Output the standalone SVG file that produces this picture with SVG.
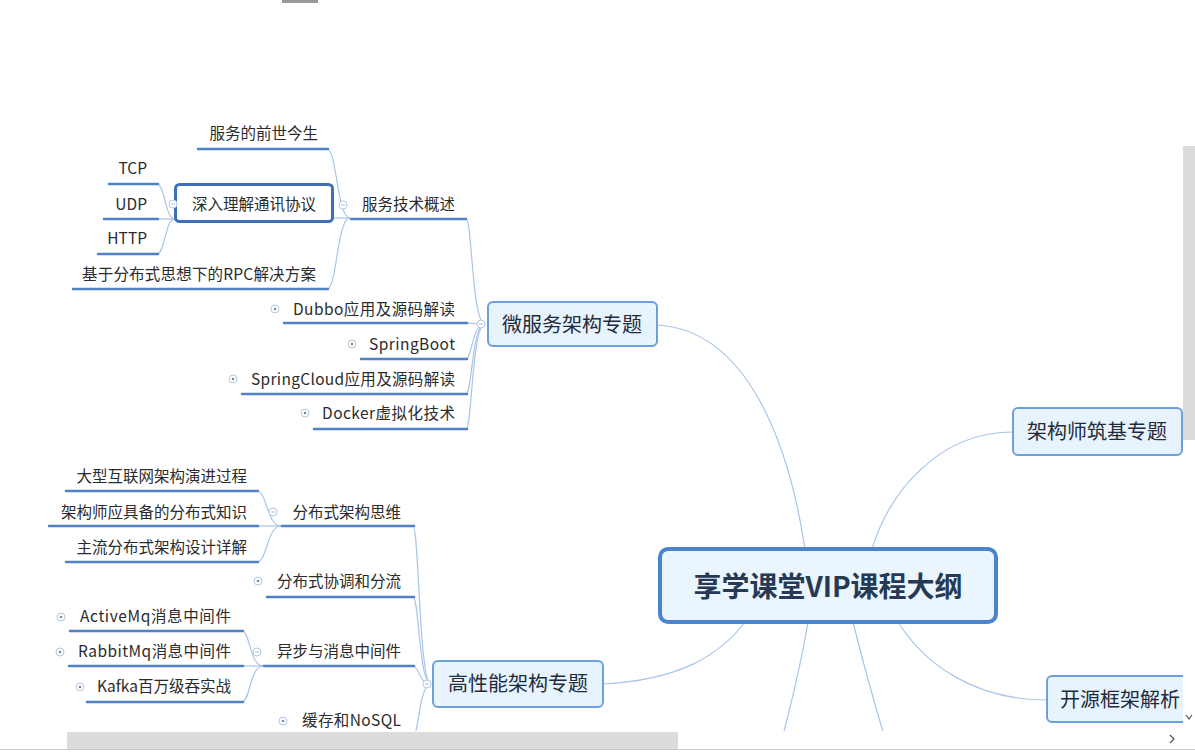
<svg xmlns="http://www.w3.org/2000/svg" width="1195" height="754" viewBox="0 0 1195 754">
<style>
text{font-family:"Noto Sans CJK SC","Noto Sans",sans-serif;fill:#2b2b2b}
.t{font-size:15.5px;text-anchor:end}
.m{font-size:20px;text-anchor:middle;fill:#1f2b3a}
.ul{stroke:#4f81c7;stroke-width:2.5;fill:none;stroke-linecap:round}
.c{stroke:#a9c5e8;stroke-width:1.2;fill:none}
.topic{fill:#e7f3fd;stroke:#6e9fda;stroke-width:2}
.ind{fill:#fff;stroke:#b3c8e2;stroke-width:1}
.minus{stroke:#a9c0de;stroke-width:1}
</style>
<defs>
<clipPath id="view"><rect x="0" y="0" width="1183" height="731"/></clipPath>
</defs>
<rect width="1195" height="754" fill="#fff"/>
<rect x="282" y="0" width="36" height="3" fill="#9a9a9a"/>
<g clip-path="url(#view)">
<g id="connectors">
<path class="c" d="M805,549 C790,450 750,330 657,325"/>
<path class="c" d="M872,549 C890,490 940,432 1013,432"/>
<path class="c" d="M745,622 C720,655 680,680 603,684"/>
<path class="c" d="M898,622 C925,665 975,700 1047,700"/>
<path class="c" d="M808,622 Q800,670 783,735"/>
<path class="c" d="M853,622 Q866,675 884,735"/>
<path class="c" d="M485,324 C472,324 472,218 466,218"/>
<path class="c" d="M485,324 C472,324 472,323 466,323"/>
<path class="c" d="M485,324 C472,324 472,359 466,359"/>
<path class="c" d="M485,324 C472,324 472,394 466,394"/>
<path class="c" d="M485,324 C472,324 472,429 466,429"/>
<path class="c" d="M350,218 C337,218 337,149 327,149"/>
<path class="c" d="M350,218 L333,218"/>
<path class="c" d="M350,218 C337,218 337,289 327,289"/>
<path class="c" d="M175,219 C165,219 165,184 157,184"/>
<path class="c" d="M175,219 L157,219"/>
<path class="c" d="M175,219 C165,219 165,254 157,254"/>
<path class="c" d="M431,684 C419,684 419,526 413,526"/>
<path class="c" d="M431,684 C419,684 419,597 413,597"/>
<path class="c" d="M431,684 C419,684 419,666 413,666"/>
<path class="c" d="M431,684 C419,684 419,736 413,736"/>
<path class="c" d="M281,526 C267,526 267,491 257,491"/>
<path class="c" d="M281,526 L257,526"/>
<path class="c" d="M281,526 C267,526 267,562 257,562"/>
<path class="c" d="M263,666 C250,666 250,631 242,631"/>
<path class="c" d="M263,666 L242,666"/>
<path class="c" d="M263,666 C250,666 250,702 242,702"/>
</g>

<g id="n-center">
<rect x="660" y="549" width="336" height="73" rx="8" fill="#eaf5fe" stroke="#4a84cc" stroke-width="4"/>
<text x="828" y="597" font-size="28" font-weight="bold" text-anchor="middle" style="fill:#263a55">享学课堂VIP课程大纲</text>
</g>
<g id="n-arch">
<rect class="topic" x="1013" y="408" width="169" height="47" rx="5"/>
<text class="m" x="1097" y="439">架构师筑基专题</text>
</g>
<g id="n-open">
<rect class="topic" x="1047" y="676" width="150" height="46" rx="5"/>
<text class="m" x="1060" y="707" style="text-anchor:start">开源框架解析</text>
</g>
<g id="n-micro">
<rect class="topic" x="488" y="302" width="169" height="44" rx="5"/>
<text class="m" x="572" y="332">微服务架构专题</text>
<circle class="ind" cx="481" cy="324" r="4"/><line class="minus" x1="479" y1="324" x2="483" y2="324"/>
</g>
<g id="n-perf">
<rect class="topic" x="433" y="661" width="170" height="46" rx="5"/>
<text class="m" x="518" y="691">高性能架构专题</text>
<circle class="ind" cx="427" cy="684" r="4"/><line class="minus" x1="425" y1="684" x2="429" y2="684"/>
</g>

<g id="n-overview">
<line class="ul" x1="351" y1="219" x2="466" y2="219"/>
<text class="t" x="455" y="210">服务技术概述</text>
<circle class="ind" cx="343" cy="205" r="4"/><line class="minus" x1="341" y1="205" x2="345" y2="205"/>
</g>
<g id="n-history">
<line class="ul" x1="198" y1="149" x2="328" y2="149"/>
<text class="t" x="318" y="139">服务的前世今生</text>
</g>
<g id="n-protocol">
<rect x="175.5" y="184.5" width="157" height="37" rx="4" fill="#fff" stroke="#3f6fb8" stroke-width="3"/>
<text x="254" y="210" font-size="15.5" text-anchor="middle">深入理解通讯协议</text>
<circle class="ind" cx="173" cy="204" r="4"/><line class="minus" x1="171" y1="204" x2="175" y2="204"/>
</g>
<g id="n-tcp">
<line class="ul" x1="109" y1="184" x2="158" y2="184"/>
<text class="t" x="147" y="174">TCP</text>
</g>
<g id="n-udp">
<line class="ul" x1="104" y1="219" x2="158" y2="219"/>
<text class="t" x="147" y="210">UDP</text>
</g>
<g id="n-http">
<line class="ul" x1="98" y1="254" x2="158" y2="254"/>
<text class="t" x="147" y="244">HTTP</text>
</g>
<g id="n-rpc">
<line class="ul" x1="73" y1="289" x2="328" y2="289"/>
<text class="t" x="316" y="280" textLength="234" lengthAdjust="spacing">基于分布式思想下的RPC解决方案</text>
</g>
<g id="n-dubbo">
<line class="ul" x1="284" y1="323" x2="467" y2="323"/>
<text class="t" x="455" y="315" textLength="162" lengthAdjust="spacing">Dubbo应用及源码解读</text>
<circle class="ind" cx="275" cy="309" r="4"/><circle cx="275" cy="309" r="1.3" fill="#7a8aa0"/>
</g>
<g id="n-springboot">
<line class="ul" x1="361" y1="359" x2="467" y2="359"/>
<text class="t" x="455" y="350" textLength="86" lengthAdjust="spacing">SpringBoot</text>
<circle class="ind" cx="352" cy="344" r="4"/><circle cx="352" cy="344" r="1.3" fill="#7a8aa0"/>
</g>
<g id="n-springcloud">
<line class="ul" x1="242" y1="394" x2="467" y2="394"/>
<text class="t" x="455" y="385" textLength="204" lengthAdjust="spacing">SpringCloud应用及源码解读</text>
<circle class="ind" cx="233" cy="379" r="4"/><circle cx="233" cy="379" r="1.3" fill="#7a8aa0"/>
</g>
<g id="n-docker">
<line class="ul" x1="314" y1="429" x2="467" y2="429"/>
<text class="t" x="455" y="419" textLength="133" lengthAdjust="spacing">Docker虚拟化技术</text>
<circle class="ind" cx="305" cy="413" r="4"/><circle cx="305" cy="413" r="1.3" fill="#7a8aa0"/>
</g>

<g id="n-dthink">
<line class="ul" x1="282" y1="526" x2="414" y2="526"/>
<text class="t" x="401" y="518">分布式架构思维</text>
<circle class="ind" cx="273" cy="512" r="4"/><line class="minus" x1="271" y1="512" x2="275" y2="512"/>
</g>
<g id="n-evolve">
<line class="ul" x1="66" y1="491" x2="258" y2="491"/>
<text class="t" x="247" y="482">大型互联网架构演进过程</text>
</g>
<g id="n-knowledge">
<line class="ul" x1="49" y1="526" x2="258" y2="526"/>
<text class="t" x="247" y="518">架构师应具备的分布式知识</text>
</g>
<g id="n-design">
<line class="ul" x1="66" y1="562" x2="258" y2="562"/>
<text class="t" x="247" y="553">主流分布式架构设计详解</text>
</g>
<g id="n-coord">
<line class="ul" x1="267" y1="597" x2="414" y2="597"/>
<text class="t" x="401" y="587">分布式协调和分流</text>
<circle class="ind" cx="258" cy="581" r="4"/><circle cx="258" cy="581" r="1.3" fill="#7a8aa0"/>
</g>
<g id="n-async">
<line class="ul" x1="264" y1="666" x2="414" y2="666"/>
<text class="t" x="401" y="657">异步与消息中间件</text>
<circle class="ind" cx="257" cy="652" r="4"/><line class="minus" x1="255" y1="652" x2="259" y2="652"/>
</g>
<g id="n-activemq">
<line class="ul" x1="70" y1="631" x2="243" y2="631"/>
<text class="t" x="231" y="622" textLength="151" lengthAdjust="spacing">ActiveMq消息中间件</text>
<circle class="ind" cx="61" cy="617" r="4"/><circle cx="61" cy="617" r="1.3" fill="#7a8aa0"/>
</g>
<g id="n-rabbitmq">
<line class="ul" x1="69" y1="666" x2="243" y2="666"/>
<text class="t" x="231" y="657" textLength="153" lengthAdjust="spacing">RabbitMq消息中间件</text>
<circle class="ind" cx="60" cy="652" r="4"/><circle cx="60" cy="652" r="1.3" fill="#7a8aa0"/>
</g>
<g id="n-kafka">
<line class="ul" x1="87" y1="702" x2="243" y2="702"/>
<text class="t" x="231" y="692" textLength="134" lengthAdjust="spacing">Kafka百万级吞实战</text>
<circle class="ind" cx="80" cy="687" r="4"/><circle cx="80" cy="687" r="1.3" fill="#7a8aa0"/>
</g>
<g id="n-cache">
<line class="ul" x1="292" y1="736" x2="414" y2="736"/>
<text class="t" x="401" y="726" textLength="99" lengthAdjust="spacing">缓存和NoSQL</text>
<circle class="ind" cx="283" cy="721" r="4"/><circle cx="283" cy="721" r="1.3" fill="#7a8aa0"/>
</g>
</g>

<g id="scrollbars">
<rect x="1183" y="146" width="12" height="294" fill="#dcdcdc"/>
<rect x="67" y="732" width="611" height="17" fill="#dcdcdc"/>
<line x1="0" y1="749.5" x2="1195" y2="749.5" stroke="#c8c8c8" stroke-width="1"/>
<polyline points="1186,715 1189,719 1192,715" fill="none" stroke="#555" stroke-width="1.2"/>
<polyline points="1170,735 1174,739 1170,743" fill="none" stroke="#555" stroke-width="1.2"/>
</g>
</svg>
